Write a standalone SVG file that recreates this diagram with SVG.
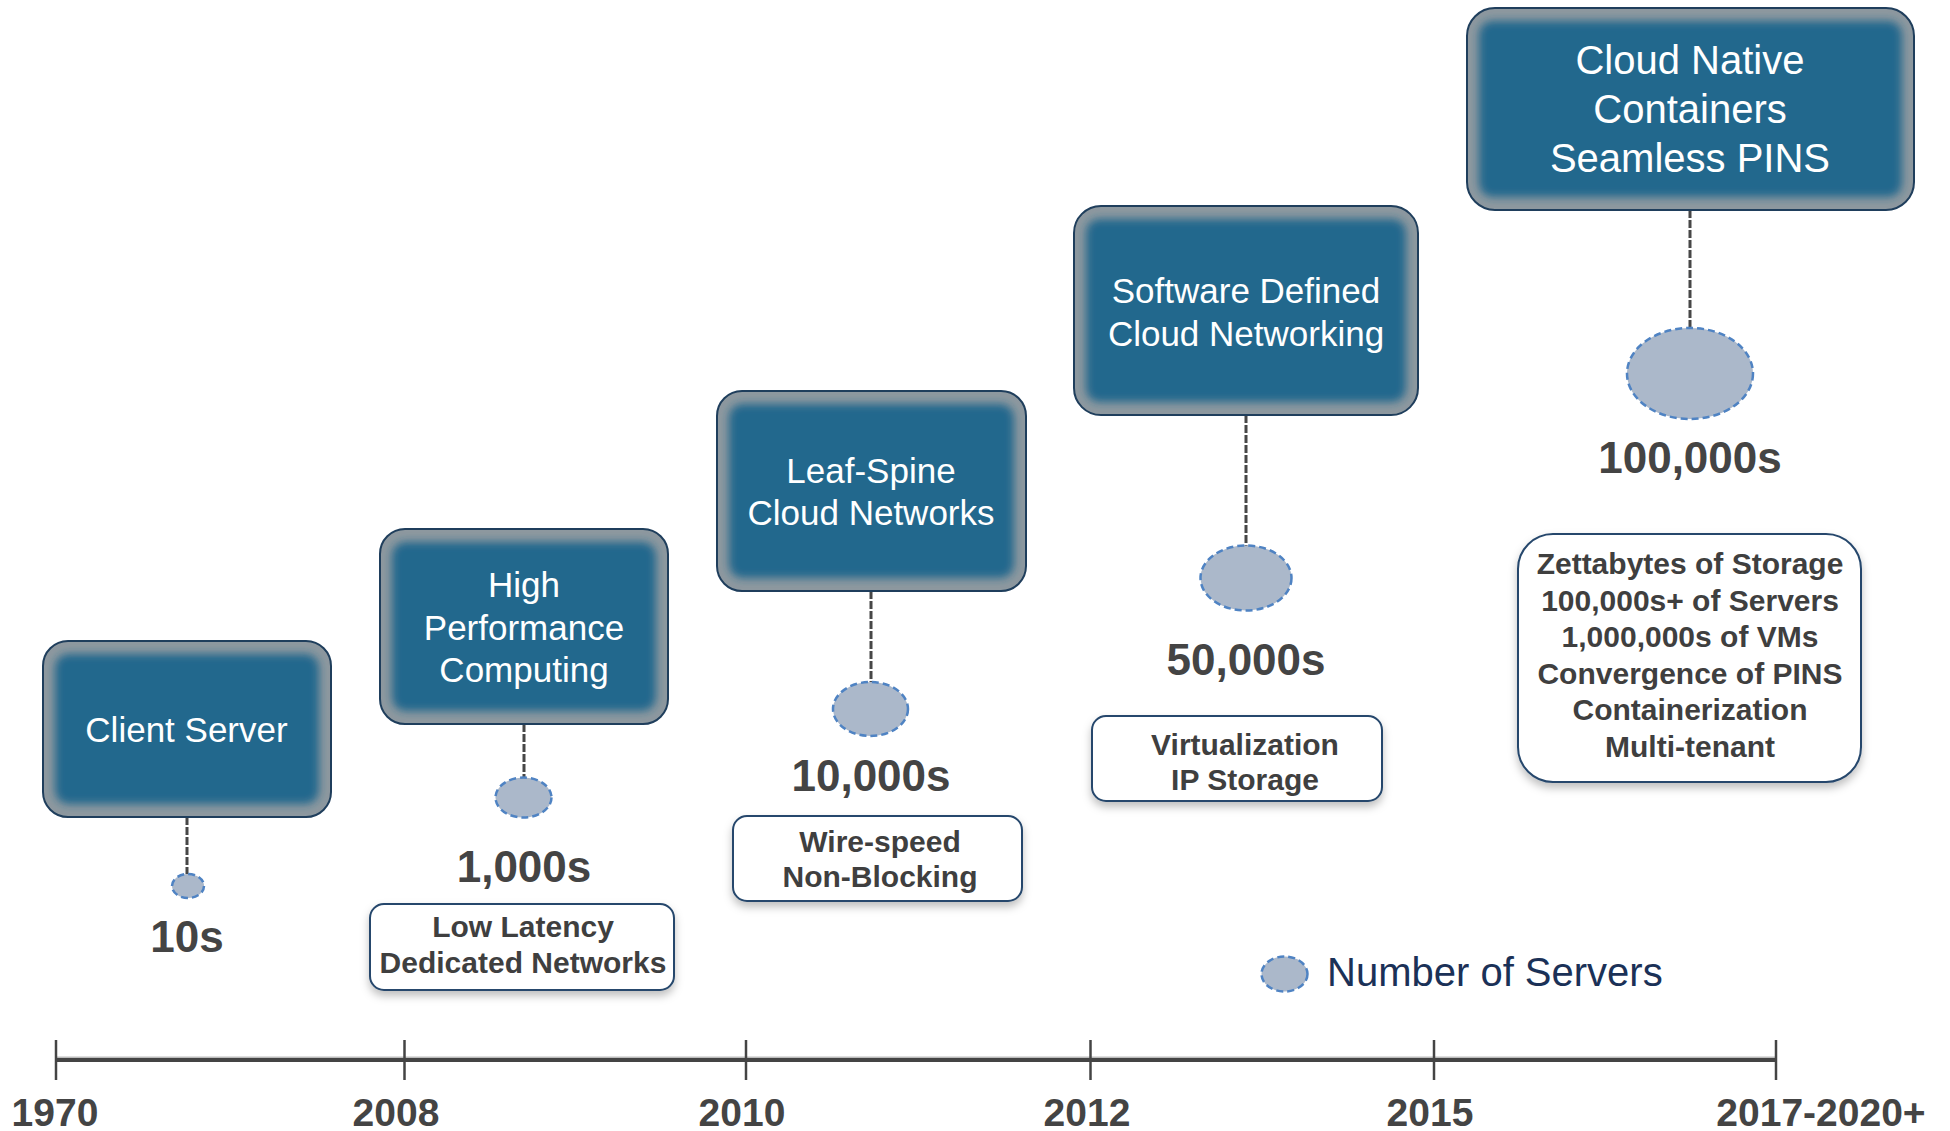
<svg xmlns="http://www.w3.org/2000/svg" width="1950" height="1131" viewBox="0 0 1950 1131">
<defs>
<style>
text{font-family:"Liberation Sans",Arial,sans-serif}
.bo{fill:#8d989f;stroke:#1f3e5c;stroke-width:2}
.bi{fill:#24678d;filter:url(#blur)}
.bt{fill:#ffffff;font-size:35px;text-anchor:middle}
.num{fill:#444444;font-size:44px;font-weight:bold;text-anchor:middle}
.db{fill:#ffffff;stroke:#25476c;stroke-width:2;filter:url(#shadow)}
.dt{fill:#3f3f3f;font-size:30px;font-weight:bold;text-anchor:middle}
.srv{fill:#abb8ca;stroke:#4f83c3;stroke-width:2.5;stroke-dasharray:7 4}
.con{stroke:#474747;stroke-width:3;stroke-dasharray:8 2;fill:none}
.yr{fill:#444444;font-size:39px;font-weight:bold;text-anchor:middle}
.tick{stroke:#444444;stroke-width:2.5}
</style>
<filter id="blur" x="-20%" y="-20%" width="140%" height="140%"><feGaussianBlur stdDeviation="4.5"/></filter>
<filter id="shadow" x="-10%" y="-10%" width="120%" height="130%"><feDropShadow dx="0" dy="5" stdDeviation="4" flood-color="#000000" flood-opacity="0.25"/></filter>
</defs>

<g id="connectors">
<line class="con" x1="187" y1="817" x2="187" y2="874"/>
<line class="con" x1="524" y1="724" x2="524" y2="778"/>
<line class="con" x1="871" y1="591" x2="871" y2="682"/>
<line class="con" x1="1246" y1="415" x2="1246" y2="546"/>
<line class="con" x1="1690" y1="210" x2="1690" y2="328"/>
</g>

<g id="client-server">
<rect class="bo" x="43" y="641" width="288" height="176" rx="25"/>
<rect class="bi" x="55" y="654" width="264" height="150" rx="14"/>
<text class="bt" x="186.5" y="742">Client Server</text>
</g>
<g id="hpc">
<rect class="bo" x="380" y="529" width="288" height="195" rx="25"/>
<rect class="bi" x="392" y="542" width="264" height="169" rx="14"/>
<text class="bt" x="524" y="597">High</text>
<text class="bt" x="524" y="640">Performance</text>
<text class="bt" x="524" y="682">Computing</text>
</g>
<g id="leaf-spine">
<rect class="bo" x="717" y="391" width="309" height="200" rx="25"/>
<rect class="bi" x="729" y="404" width="285" height="174" rx="14"/>
<text class="bt" x="871" y="483">Leaf-Spine</text>
<text class="bt" x="871" y="525">Cloud Networks</text>
</g>
<g id="sdcn">
<rect class="bo" x="1074" y="206" width="344" height="209" rx="27"/>
<rect class="bi" x="1086" y="219" width="320" height="183" rx="14"/>
<text class="bt" x="1246" y="303">Software Defined</text>
<text class="bt" x="1246" y="346">Cloud Networking</text>
</g>
<g id="cloud-native">
<rect class="bo" x="1467" y="8" width="447" height="202" rx="28"/>
<rect class="bi" x="1479" y="21" width="423" height="176" rx="14"/>
<text class="bt" x="1690" y="74" style="font-size:40px">Cloud Native</text>
<text class="bt" x="1690" y="123" style="font-size:40px">Containers</text>
<text class="bt" x="1690" y="172" style="font-size:40px">Seamless PINS</text>
</g>

<g id="servers-10s">
<ellipse class="srv" cx="188" cy="886" rx="16" ry="12"/>
<text class="num" x="187" y="952">10s</text>
</g>
<g id="servers-1000s">
<ellipse class="srv" cx="523.5" cy="797.5" rx="28" ry="20"/>
<text class="num" x="524" y="882">1,000s</text>
</g>
<g id="servers-10000s">
<ellipse class="srv" cx="870.5" cy="709" rx="37.5" ry="27"/>
<text class="num" x="871" y="791">10,000s</text>
</g>
<g id="servers-50000s">
<ellipse class="srv" cx="1246" cy="578" rx="45.5" ry="32.5"/>
<text class="num" x="1246" y="675">50,000s</text>
</g>
<g id="servers-100000s">
<ellipse class="srv" cx="1690" cy="373.5" rx="63" ry="45.5"/>
<text class="num" x="1690" y="473">100,000s</text>
</g>

<g id="desc-low-latency">
<rect class="db" x="370" y="904" width="304" height="86" rx="14"/>
<text class="dt" x="523" y="937">Low Latency</text>
<text class="dt" x="523" y="973">Dedicated Networks</text>
</g>
<g id="desc-wire-speed">
<rect class="db" x="733" y="816" width="289" height="85" rx="14"/>
<text class="dt" x="880" y="852">Wire-speed</text>
<text class="dt" x="880" y="887">Non-Blocking</text>
</g>
<g id="desc-virtualization">
<rect class="db" x="1092" y="716" width="290" height="85" rx="14"/>
<text class="dt" x="1245" y="755">Virtualization</text>
<text class="dt" x="1245" y="790">IP Storage</text>
</g>
<g id="desc-zettabytes">
<rect class="db" x="1518" y="534" width="343" height="248" rx="35"/>
<text class="dt" x="1690" y="574">Zettabytes of Storage</text>
<text class="dt" x="1690" y="610.5">100,000s+ of Servers</text>
<text class="dt" x="1690" y="647">1,000,000s of VMs</text>
<text class="dt" x="1690" y="683.5">Convergence of PINS</text>
<text class="dt" x="1690" y="720">Containerization</text>
<text class="dt" x="1690" y="756.5">Multi-tenant</text>
</g>

<g id="legend">
<ellipse class="srv" cx="1284.5" cy="974" rx="23" ry="17.5"/>
<text x="1327" y="986" style="fill:#1b3157;font-size:40px">Number of Servers</text>
</g>

<g id="timeline">
<line x1="56" y1="1058" x2="1776" y2="1058" stroke="#bdbdbd" stroke-width="3"/>
<line x1="56" y1="1060" x2="1776" y2="1060" stroke="#444444" stroke-width="4"/>
<line class="tick" x1="56" y1="1040" x2="56" y2="1080"/>
<line class="tick" x1="404.5" y1="1040" x2="404.5" y2="1080"/>
<line class="tick" x1="746" y1="1040" x2="746" y2="1080"/>
<line class="tick" x1="1090.5" y1="1040" x2="1090.5" y2="1080"/>
<line class="tick" x1="1434" y1="1040" x2="1434" y2="1080"/>
<line class="tick" x1="1776" y1="1040" x2="1776" y2="1080"/>
<text class="yr" x="55" y="1126">1970</text>
<text class="yr" x="396" y="1126">2008</text>
<text class="yr" x="742" y="1126">2010</text>
<text class="yr" x="1087" y="1126">2012</text>
<text class="yr" x="1430" y="1126">2015</text>
<text class="yr" x="1821" y="1126">2017-2020+</text>
</g>
</svg>
